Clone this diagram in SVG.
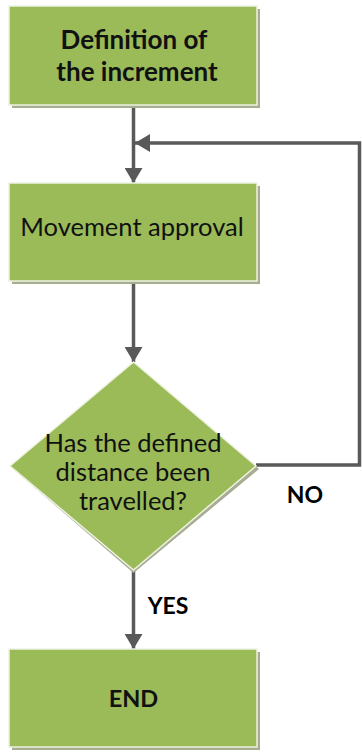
<svg xmlns="http://www.w3.org/2000/svg" width="362" height="753" viewBox="0 0 362 753">
<defs>
<style>
.shadow{fill:#a7ad91}
.box{fill:#9bbb59;stroke:#eef2e2;stroke-width:1.5}
.t{font-family:Lato,"Liberation Sans",sans-serif;fill:#111;text-anchor:middle}
.b{font-weight:bold;font-size:26px}
.r{font-size:25.5px}
.lbl{font-family:Lato,"Liberation Sans",sans-serif;font-weight:bold;font-size:23px;fill:#000;text-anchor:middle}
.c{fill:none;stroke:#595959;stroke-width:3.5}
</style>
<marker id="ah" viewBox="0 0 15 18" refX="15" refY="9" markerWidth="15" markerHeight="18" markerUnits="userSpaceOnUse" orient="auto">
<path d="M0,0 L15,9 L0,18 Z" fill="#595959"/>
</marker>
</defs>
<g id="connectors">
<line class="c" x1="133.5" y1="105" x2="133.5" y2="183" marker-end="url(#ah)"/>
<path class="c" d="M256,465 H359.5 V143 H135" marker-end="url(#ah)"/>
<line class="c" x1="133.5" y1="281" x2="133.5" y2="362" marker-end="url(#ah)"/>
<line class="c" x1="133.5" y1="570" x2="133.5" y2="649" marker-end="url(#ah)"/>
</g>
<g id="node-definition">
<rect class="shadow" x="12" y="9" width="248" height="99"/>
<rect class="box" x="9" y="6" width="248" height="99"/>
<text class="t b" x="134" y="49">Definition of</text>
<text class="t b" x="137" y="81">the increment</text>
</g>
<g id="node-approval">
<rect class="shadow" x="12" y="186" width="248" height="98"/>
<rect class="box" x="9" y="183" width="248" height="98"/>
<text class="t r" x="132" y="236">Movement approval</text>
</g>
<g id="node-decision">
<polygon class="shadow" points="133.5,365 259,469 133.5,573 13,469"/>
<polygon class="box" points="133.5,362 256,466 133.5,570 10,466"/>
<text class="t r" x="133" y="452">Has the defined</text>
<text class="t r" x="133" y="481">distance been</text>
<text class="t r" x="133" y="510">travelled?</text>
</g>
<g id="node-end">
<rect class="shadow" x="12" y="652" width="248" height="98"/>
<rect class="box" x="9" y="649" width="248" height="98"/>
<text class="t" font-weight="bold" font-size="23.5" x="133.5" y="707">END</text>
</g>
<g id="labels">
<text class="lbl" x="305" y="503">NO</text>
<text class="lbl" x="168" y="614">YES</text>
</g>
</svg>
